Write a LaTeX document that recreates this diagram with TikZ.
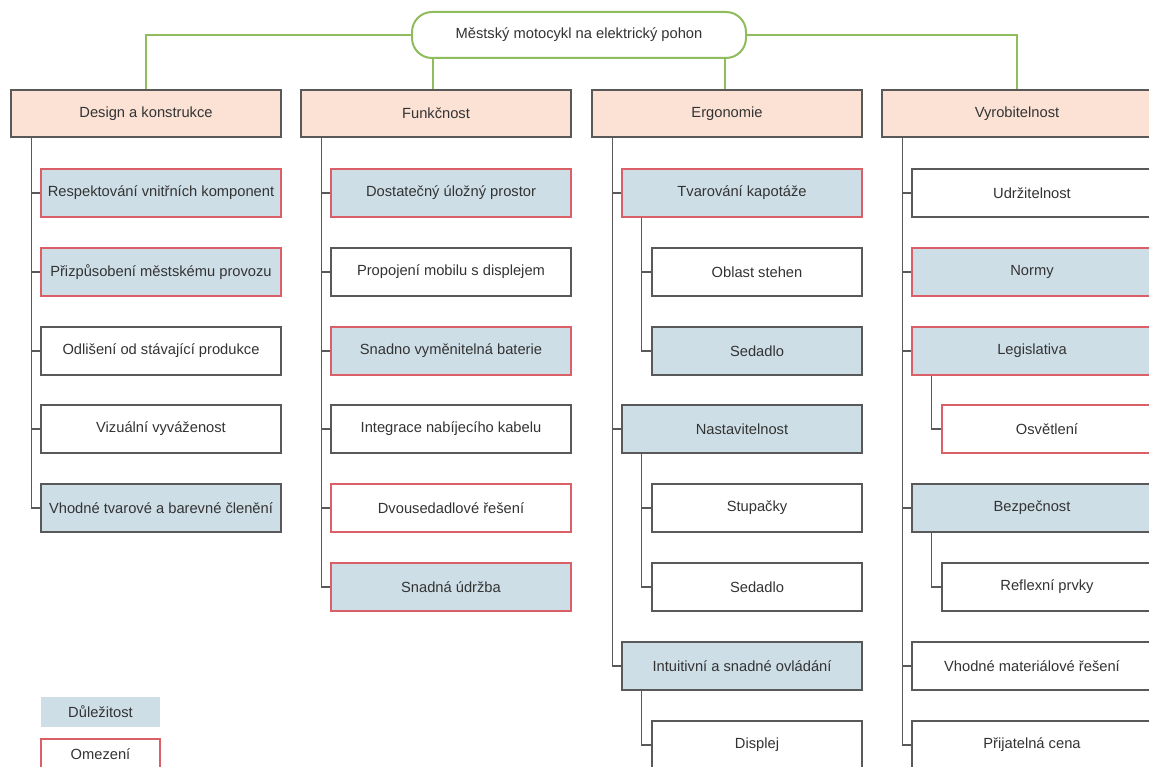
\documentclass[tikz,border=0pt]{standalone}
\usepackage{fontspec}
\setmainfont{Liberation Sans}
\definecolor{txt}{HTML}{333333}
\definecolor{gline}{HTML}{595959}
\definecolor{green}{HTML}{8FBC5C}
\definecolor{peach}{HTML}{FBE2D5}
\definecolor{blue}{HTML}{CEDEE7}
\definecolor{red}{HTML}{DB5F66}
\tikzset{
  base/.style={rectangle, inner sep=0pt, text=txt, font=\fontsize{14.7}{17}\selectfont, line width=1.3pt},
  hdr/.style={base, draw=gline, fill=peach, minimum width=270pt, minimum height=47pt},
  item/.style={base, draw=gline, fill=white, minimum width=240pt, minimum height=48pt},
  subitem/.style={base, draw=gline, fill=white, minimum width=210pt, minimum height=48pt},
  imp/.style={fill=blue},
  lim/.style={draw=red},
  gcon/.style={draw=green, line width=1.3pt},
  con/.style={draw=gline, line width=1.3pt},
}
\begin{document}
\begin{tikzpicture}[x={(1pt,0)}, y={(0,-1pt)}]
\useasboundingbox (0,0) rectangle (1149,767);
\clip (0,0) rectangle (1149,767);
\fill[white] (0,0) rectangle (1149,767);

% root
\node[base, draw=green, line width=2pt, fill=white, rounded corners=20pt, minimum width=334pt, minimum height=46pt] (root) at (579,35) {Městský motocykl na elektrický pohon};

% headers
\node[hdr] (h1) at (146,113.5) {Design a konstrukce};
\node[hdr] (h2) at (436,113.5) {Funkčnost};
\node[hdr] (h3) at (727,113.5) {Ergonomie};
\node[hdr] (h4) at (1017,113.5) {Vyrobitelnost};

% green connectors
\draw[gcon] (root.west) -| (h1.north);
\draw[gcon] (root.east) -| (h4.north);
\coordinate (r2) at ([xshift=-3pt]root.south -| h2.north);
\coordinate (r3) at ([xshift=-2pt]root.south -| h3.north);
\draw[gcon] (r2) -- (r2 |- h2.north);
\draw[gcon] (r3) -- (r3 |- h3.north);

% trunk tops
\coordinate (t1) at ([xshift=21pt]h1.south west);
\coordinate (t2) at ([xshift=21pt]h2.south west);
\coordinate (t3) at ([xshift=21pt]h3.south west);
\coordinate (t4) at ([xshift=21pt]h4.south west);

% Design a konstrukce
\node[item, imp, lim] (a1) at (161,193) {Respektování vnitřních komponent};
\node[item, imp, lim] (a2) at (161,272) {Přizpůsobení městskému provozu};
\node[item] (a3) at (161,351) {Odlišení od stávající produkce};
\node[item] (a4) at (161,429) {Vizuální vyváženost};
\node[item, imp] (a5) at (161,508) {Vhodné tvarové a barevné členění};
\foreach \n in {a1,a2,a3,a4,a5} \draw[con] (t1) |- (\n.west);

% Funkčnost
\node[item, imp, lim] (b1) at (451,193) {Dostatečný úložný prostor};
\node[item] (b2) at (451,272) {Propojení mobilu s displejem};
\node[item, imp, lim] (b3) at (451,351) {Snadno vyměnitelná baterie};
\node[item] (b4) at (451,429) {Integrace nabíjecího kabelu};
\node[item, lim] (b5) at (451,508) {Dvousedadlové řešení};
\node[item, imp, lim] (b6) at (451,587) {Snadná údržba};
\foreach \n in {b1,b2,b3,b4,b5,b6} \draw[con] (t2) |- (\n.west);

% Ergonomie
\node[item, imp, lim] (c1) at (742,193) {Tvarování kapotáže};
\node[subitem] (c11) at (757,272) {Oblast stehen};
\node[subitem, imp] (c12) at (757,351) {Sedadlo};
\node[item, imp] (c2) at (742,429) {Nastavitelnost};
\node[subitem] (c21) at (757,508) {Stupačky};
\node[subitem] (c22) at (757,587) {Sedadlo};
\node[item, imp] (c3) at (742,666) {Intuitivní a snadné ovládání};
\node[subitem] (c31) at (757,745) {Displej};
\foreach \n in {c1,c2,c3} \draw[con] (t3) |- (\n.west);
\foreach \p/\n in {c1/c11,c1/c12,c2/c21,c2/c22,c3/c31} \draw[con] ([xshift=20pt]\p.south west) |- (\n.west);

% Vyrobitelnost
\node[item] (d1) at (1032,193) {Udržitelnost};
\node[item, imp, lim] (d2) at (1032,272) {Normy};
\node[item, imp, lim] (d3) at (1032,351) {Legislativa};
\node[subitem, lim] (d31) at (1047,429) {Osvětlení};
\node[item, imp] (d4) at (1032,508) {Bezpečnost};
\node[subitem] (d41) at (1047,587) {Reflexní prvky};
\node[item] (d5) at (1032,666) {Vhodné materiálové řešení};
\node[item] (d6) at (1032,745) {Přijatelná cena};
\foreach \n in {d1,d2,d3,d4,d5,d6} \draw[con] (t4) |- (\n.west);
\foreach \p/\n in {d3/d31,d4/d41} \draw[con] ([xshift=20pt]\p.south west) |- (\n.west);

% legend
\node[base, fill=blue, minimum width=119pt, minimum height=30pt] (l1) at (100.5,712) {Důležitost};
\node[base, draw=red, fill=white, minimum width=119pt, minimum height=30pt] (l2) at (100.5,754) {Omezení};
\end{tikzpicture}
\end{document}
